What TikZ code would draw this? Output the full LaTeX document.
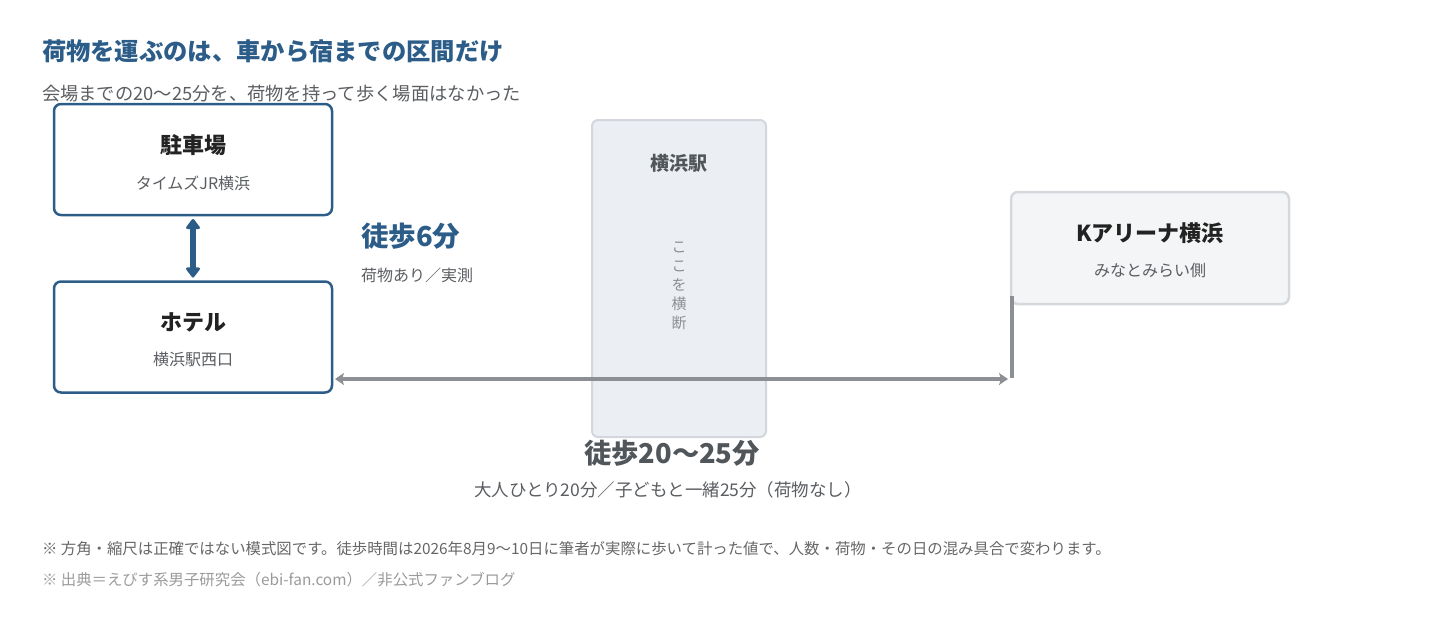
\documentclass[tikz,border=0pt]{standalone}
\usepackage{fontspec}
\setmainfont{Noto Sans CJK JP}
\usepackage{xcolor}
\usetikzlibrary{arrows.meta}
\usetikzlibrary{positioning}

\definecolor{navy}{HTML}{2C5D89}
\definecolor{ink}{HTML}{222222}
\definecolor{subgray}{HTML}{5A5D61}
\definecolor{railfill}{HTML}{EBEEF3}
\definecolor{railline}{HTML}{D3D7DD}
\definecolor{venuefill}{HTML}{F4F5F7}
\definecolor{venueline}{HTML}{D5D8DC}
\definecolor{walkgray}{HTML}{8C8F93}
\definecolor{biggray}{HTML}{51565B}
\definecolor{notegray}{HTML}{666666}
\definecolor{srcgray}{HTML}{9A9A9A}

\begin{document}
\begin{tikzpicture}[x=1pt,y=-1pt,inner sep=0pt,outer sep=0pt]
	\tikzstyle{carbox}=[draw=navy, line width=2.5pt, fill=white, rounded corners=7pt, minimum width=278pt, minimum height=111pt]
	\tikzstyle{placename}=[font=\fontsize{22}{26}\selectfont\bfseries, text=ink]
	\tikzstyle{placesub}=[font=\fontsize{16}{19}\selectfont, text=subgray]
	\tikzstyle{walk}=[draw=walkgray, line width=3.2pt]
	\useasboundingbox (0,0) rectangle (1430,637);

	% heading
	\node[anchor=west, font=\fontsize{24.3}{29}\selectfont\bfseries, text=navy] (title) at (42,51) {荷物を運ぶのは、車から宿までの区間だけ};
	\node[anchor=west, font=\fontsize{18.3}{22}\selectfont, text=subgray] (lead) at (42,94) {会場までの20〜25分を、荷物を持って歩く場面はなかった};

	% parking and hotel
	\node[carbox] (parking) at (193,159.5) {};
	\node[carbox] (hotel) at (193,337) {};
	\node[placename] (parkname) at (193,145) {駐車場};
	\node[placesub] (parksub) at (193,183) {タイムズJR横浜};
	\node[placename] (hotelname) at (193,322) {ホテル};
	\node[placesub] (hotelsub) at (193,359) {横浜駅西口};
	\draw[navy, line width=6.5pt, {Triangle[round,width=16pt,length=11pt]}-{Triangle[round,width=16pt,length=11pt]}] ([yshift=-4pt]parking.south) -- ([yshift=4pt]hotel.north);
	\node[anchor=west, font=\fontsize{27.5}{31}\selectfont\bfseries, text=navy] (short) at (361,236) {徒歩6分};
	\node[anchor=west, placesub] (shortsub) at (361,275) {荷物あり／実測};

	% station
	\node[draw=railline, line width=2pt, fill=railfill, rounded corners=6pt, minimum width=174pt, minimum height=317pt] (station) at (679,278.5) {};
	\node[font=\fontsize{19}{22}\selectfont\bfseries, text=biggray] (stationname) at (679,163) {横浜駅};
	\foreach \c [count=\i] in {こ,こ,を,横,断}{
		\node[font=\fontsize{15}{17}\selectfont, text=walkgray] (cross\i) at (679,228+19*\i) {\c};
		}

	% arena
	\node[draw=venueline, line width=2.5pt, fill=venuefill, rounded corners=7pt, minimum width=278pt, minimum height=112pt] (arena) at (1150,248) {};
	\node[placename] (arenaname) at (1150,233) {Kアリーナ横浜};
	\node[placesub] (arenasub) at (1150,270) {みなとみらい側};
	\coordinate (arenatop) at (1012,296);
	\coordinate (arenafoot) at (1012,378);
	\draw[walk] (arenatop) -- (arenafoot);
	\draw[walk, {Stealth[width=12pt,length=9pt,inset=2pt]}-{Stealth[width=12pt,length=9pt,inset=2pt]}] ([xshift=3pt,yshift=-1pt]hotel.east |- arenafoot) -- ([xshift=-4pt,yshift=-1pt]arenafoot);

	\node[font=\fontsize{27.3}{31}\selectfont\bfseries, text=biggray] (long) at (672,453) {徒歩20〜25分};
	\node[font=\fontsize{17.5}{21}\selectfont, text=subgray] (longsub) at (668,490) {大人ひとり20分／子どもと一緒25分（荷物なし）};

	% notes
	\node[anchor=west, font=\fontsize{15.4}{18}\selectfont, text=notegray] (note) at (42,549) {※ 方角・縮尺は正確ではない模式図です。徒歩時間は2026年8月9〜10日に筆者が実際に歩いて計った値で、人数・荷物・その日の混み具合で変わります。};
	\node[anchor=west, font=\fontsize{15.4}{18}\selectfont, text=srcgray] (source) at (42,580) {※ 出典＝えびす系男子研究会（ebi-fan.com）／非公式ファンブログ};
\end{tikzpicture}
\end{document}
